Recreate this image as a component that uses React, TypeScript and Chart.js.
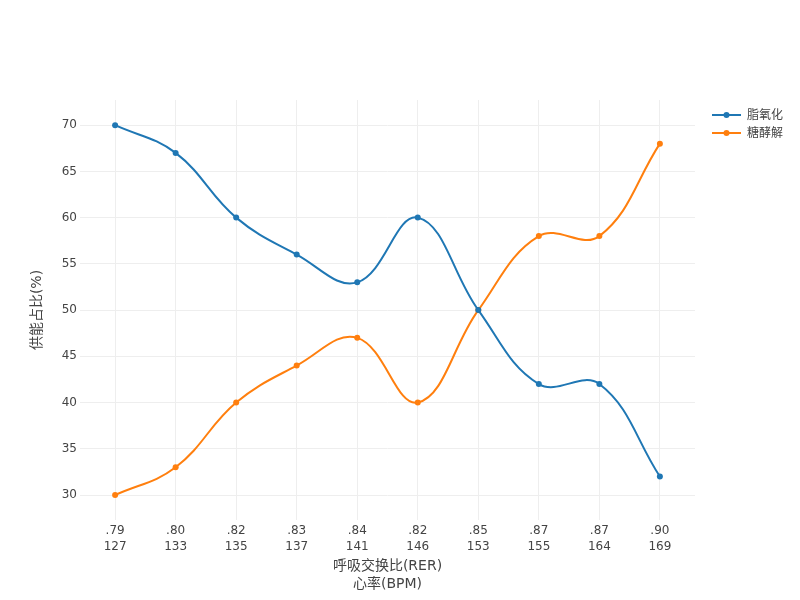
import React, { useEffect, useRef } from "react";
import { Chart, registerables } from "chart.js";

Chart.register(...registerables);

const rerLabels = [".79", ".80", ".82", ".83", ".84", ".82", ".85", ".87", ".87", ".90"];
const bpmLabels = ["127", "133", "135", "137", "141", "146", "153", "155", "164", "169"];
const fatOxidation = [70, 67, 60, 56, 53, 60, 50, 42, 42, 32];
const glycolysis = [30, 33, 40, 44, 47, 40, 50, 58, 58, 68];
const seriesNames = ["脂氧化", "糖酵解"];
const seriesColors = ["#1f77b4", "#ff7f0e"];
const xTitle = ["呼吸交换比(RER)", "心率(BPM)"];
const yTitle = "供能占比(%)";

const FONT = '"DejaVu Sans", "Noto Sans CJK SC", sans-serif';

const overlayPlugin = {
  id: "overlay",
  afterDraw(chart: any) {
    const ctx = chart.ctx;
    const area = chart.chartArea;
    ctx.save();
    ctx.fillStyle = "#444";
    ctx.textAlign = "center";
    ctx.textBaseline = "middle";
    ctx.font = `14px ${FONT}`;
    const cx = (area.left + area.right) / 2;
    ctx.fillText(xTitle[0], cx, 566);
    ctx.fillText(xTitle[1], cx, 584);
    ctx.translate(37, 310);
    ctx.rotate(-Math.PI / 2);
    ctx.fillText(yTitle, 0, 0);
    ctx.restore();

    ctx.save();
    ctx.font = `12px ${FONT}`;
    ctx.textAlign = "left";
    ctx.textBaseline = "middle";
    seriesNames.forEach((name, i) => {
      const y = 115 + i * 18;
      ctx.strokeStyle = seriesColors[i];
      ctx.lineWidth = 2;
      ctx.beginPath();
      ctx.moveTo(712, y);
      ctx.lineTo(741, y);
      ctx.stroke();
      ctx.fillStyle = seriesColors[i];
      ctx.beginPath();
      ctx.arc(726.5, y, 3, 0, Math.PI * 2);
      ctx.fill();
      ctx.fillStyle = "#444";
      ctx.fillText(name, 747, y + 0.5);
    });
    ctx.restore();
  },
};

export default function App() {
  const ref = useRef<HTMLCanvasElement>(null);
  useEffect(() => {
    if (!ref.current) return;
    const mk = (vals: number[]) => vals.map((v, i) => ({ x: i, y: v }));
    const chart = new Chart(ref.current, {
      type: "line",
      data: {
        datasets: [fatOxidation, glycolysis].map((vals, i) => ({
          label: seriesNames[i],
          data: mk(vals),
          borderColor: seriesColors[i],
          backgroundColor: seriesColors[i],
          borderWidth: 2,
          pointRadius: 3,
          pointHoverRadius: 3,
          pointBorderWidth: 0,
          tension: 0.4,
          fill: false,
        })),
      },
      options: {
        animation: false,
        responsive: false,
        layout: { padding: { left: 0, right: 105, top: 100, bottom: 0 } },
        plugins: { legend: { display: false }, tooltip: { enabled: false } },
        scales: {
          x: {
            type: "linear",
            min: -0.58,
            max: 9.58,
            afterFit: (s: any) => {
              s.height = 80;
            },
            afterBuildTicks: (s: any) => {
              s.ticks = rerLabels.map((_, i) => ({ value: i }));
            },
            grid: { color: "#eeeeee", lineWidth: 1, drawTicks: false },
            border: { display: false },
            ticks: {
              autoSkip: false,
              maxRotation: 0,
              padding: 3,
              color: "#444",
              font: { family: FONT, size: 12, lineHeight: 1.3 },
              callback: (v: any) => {
                const i = Math.round(Number(v));
                return [rerLabels[i], bpmLabels[i]];
              },
            },
          },
          y: {
            type: "linear",
            min: 27.3,
            max: 72.72,
            afterFit: (s: any) => {
              s.width = 80;
            },
            afterBuildTicks: (s: any) => {
              const t = [];
              for (let v = 30; v <= 70; v += 5) t.push({ value: v });
              s.ticks = t;
            },
            grid: { color: "#eeeeee", lineWidth: 1, drawTicks: false },
            border: { display: false },
            ticks: {
              padding: 3,
              color: "#444",
              font: { family: FONT, size: 12 },
            },
          },
        },
      },
      plugins: [overlayPlugin],
    });
    return () => chart.destroy();
  }, []);
  return (
    <div style={{ position: "fixed", left: 0, top: 0, width: 800, height: 600, background: "#fff" }}>
      <canvas ref={ref} width={800} height={600} style={{ width: 800, height: 600 }} />
    </div>
  );
}
